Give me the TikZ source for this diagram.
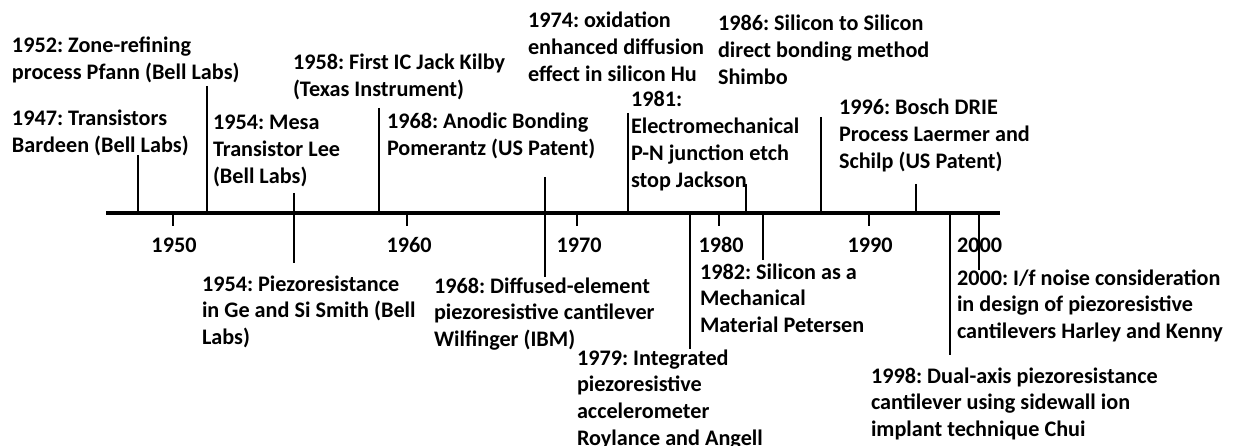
\documentclass[tikz,border=0pt]{standalone}
\usepackage{fontspec}
\setmainfont{Carlito}
\newcommand\evfont{\fontsize{22.2}{26.8}\selectfont\bfseries\frenchspacing}
\newcommand\fls{\rule{0pt}{18pt}}
\begin{document}
\begin{tikzpicture}[x=1pt,y=-1pt,
  ev/.style={anchor=north west, inner sep=0pt, outer sep=0pt, align=left, font=\evfont},
  yr/.style={anchor=base, inner sep=0pt, outer sep=0pt, font=\evfont},
  axisline/.style={line width=3.2pt},
  tickline/.style={line width=2.4pt}]
\clip (0,0) rectangle (1236,446);
\fill[white] (0,0) rectangle (1236,446);

% axis
\coordinate (a0) at (106,213);
\coordinate (a1) at (1000,213);
\draw[axisline] (a0) -- (a1);

% decade ticks and labels
\foreach \n/\x in {1950/173,1960/407,1970/577,1980/719,1990/869}{
  \coordinate (t\n) at (\x,213);
  \coordinate (b\n) at (\x,226);
  \draw[tickline] (t\n) -- (b\n);
}
\node[yr] (y1950) at (174,253) {1950};
\node[yr] (y1960) at (409,253) {1960};
\node[yr] (y1970) at (579,253) {1970};
\node[yr] (y1980) at (721,253) {1980};
\node[yr] (y1990) at (870,253) {1990};
\node[yr, anchor=base west] (y2000) at (957,253) {2000};

% event ticks (top end / bottom end)
\foreach \n/\x/\ya/\yb in {e1947/138/155/213, e1952/207/86/213, e1954/294/193/263,
  e1958/379/108/213, e1968/545/177/277, e1974/628/113/213, e1979/690/213/349,
  e1981/746/184/213, e1982/763/213/260, e1986/821/117/213, e1996/916/184/213,
  e1998/950/213/355, e2000/979/213/270}{
  \coordinate (\n u) at (\x,\ya);
  \coordinate (\n d) at (\x,\yb);
  \draw[tickline] (\n u) -- (\n d);
}

% events above
\node[ev] (n1952) at (12,35) {\fls 1952: Zone-refining\\process Pfann (Bell Labs)};
\node[ev] (n1947) at (12,108) {\fls 1947: Transistors\\Bardeen (Bell Labs)};
\node[ev] (n1954m) at (213,112) {\fls 1954: Mesa\\Transistor Lee\\(Bell Labs)};
\node[ev] (n1958) at (293,52) {\fls 1958: First IC Jack Kilby\\(Texas Instrument)};
\node[ev] (n1968a) at (387,111) {\fls 1968: Anodic Bonding\\Pomerantz (US Patent)};
\node[ev] (n1974) at (528,10) {\fls 1974: oxidation\\enhanced diffusion\\effect in silicon Hu};
\node[ev] (n1986) at (718,13) {\fls 1986: Silicon to Silicon\\direct bonding method\\Shimbo};
\node[ev] (n1981) at (631,89) {\fls 1981:\\Electromechanical\\P-N junction etch\\stop Jackson};
\node[ev] (n1996) at (839,97) {\fls 1996: Bosch DRIE\\Process Laermer and\\Schilp (US Patent)};

% events below
\node[ev] (n1954p) at (202,273) {\fls 1954: Piezoresistance\\in Ge and Si Smith (Bell\\Labs)};
\node[ev] (n1968d) at (434,275) {\fls 1968: Diffused-element\\piezoresistive cantilever\\Wilfinger (IBM)};
\node[ev] (n1982) at (700,261) {\fls 1982: Silicon as a\\Mechanical\\Material Petersen};
\node[ev] (n2000) at (957,267) {\fls 2000: I/f noise consideration\\in design of piezoresistive\\cantilevers Harley and Kenny};
\node[ev] (n1979) at (577,347) {\fls 1979: Integrated\\piezoresistive\\accelerometer\\Roylance and Angell};
\node[ev] (n1998) at (871,365) {\fls 1998: Dual-axis piezoresistance\\cantilever using sidewall ion\\implant technique Chui};
\end{tikzpicture}
\end{document}
